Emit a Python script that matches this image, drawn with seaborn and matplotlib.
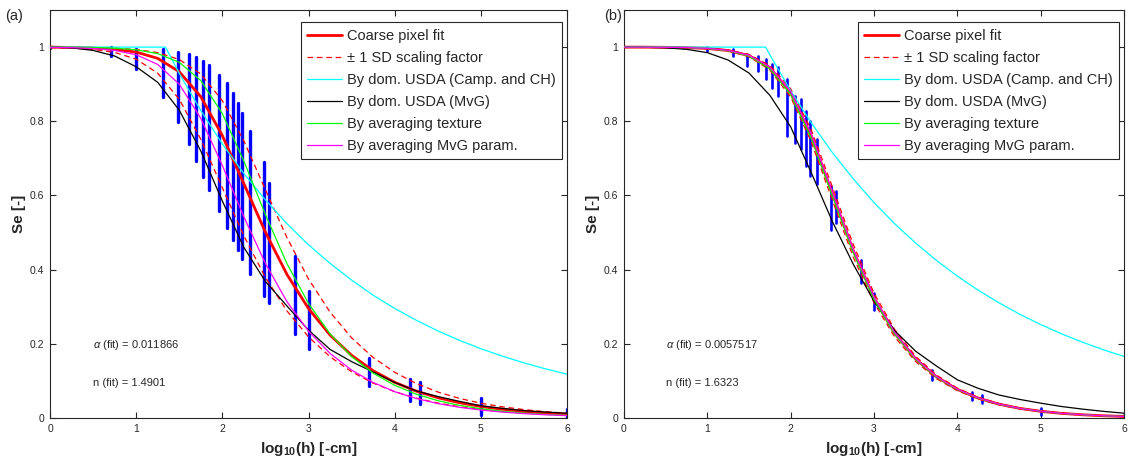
import matplotlib
matplotlib.use("Agg")
import matplotlib.pyplot as plt
import seaborn as sns

LOGH = [0.0, 0.25, 0.5, 0.75, 1.0, 1.25, 1.5, 1.75, 2.0, 2.25, 2.5, 2.75, 3.0,
        3.25, 3.5, 3.75, 4.0, 4.25, 4.5, 4.75, 5.0, 5.25, 5.5, 5.75, 6.0]

# ---- panel (a) ----
A_FIT = [1.000, 0.999, 0.9975, 0.9942, 0.9866, 0.9696, 0.9336, 0.8663, 0.7615, 0.6317,
         0.5011, 0.3871, 0.2951, 0.2236, 0.1690, 0.1275, 0.0962, 0.0726, 0.0547, 0.0413,
         0.0311, 0.0235, 0.0177, 0.0134, 0.0101]
A_SD_HI = [0.9998, 0.9995, 0.9988, 0.9973, 0.9936, 0.9852, 0.9665, 0.9275, 0.8556, 0.7468,
           0.6155, 0.4863, 0.3749, 0.2855, 0.2162, 0.1633, 0.1233, 0.0930, 0.0701, 0.0529,
           0.0399, 0.0301, 0.0227, 0.0171, 0.0129]
A_SD_LO = [0.9989, 0.9974, 0.9938, 0.9857, 0.9676, 0.9296, 0.8592, 0.7517, 0.6209, 0.4912,
           0.3789, 0.2887, 0.2187, 0.1652, 0.1247, 0.0941, 0.0710, 0.0535, 0.0404, 0.0305,
           0.0230, 0.0173, 0.0131, 0.0099, 0.0074]
A_CAMP_X = [0.0, 1.34, 1.5, 1.75, 2.0, 2.25, 2.5, 2.75, 3.0, 3.25, 3.5, 3.75, 4.0,
            4.25, 4.5, 4.75, 5.0, 5.25, 5.5, 5.75, 6.0]
A_CAMP = [1.0, 1.0, 0.929, 0.829, 0.739, 0.659, 0.588, 0.524, 0.467, 0.417, 0.372, 0.331,
          0.2955, 0.2636, 0.2350, 0.2096, 0.1869, 0.1667, 0.1487, 0.1326, 0.1182]
A_MVG = [1.000, 0.998, 0.991, 0.976, 0.947, 0.905, 0.830, 0.720, 0.585, 0.460,
         0.368, 0.302, 0.237, 0.185, 0.152, 0.124, 0.096, 0.073, 0.058, 0.045,
         0.033, 0.026, 0.020, 0.016, 0.013]
A_TEX = [1.000, 0.9995, 0.9988, 0.9970, 0.9927, 0.9824, 0.9590, 0.9098, 0.8208, 0.6924,
         0.5484, 0.4162, 0.3088, 0.2268, 0.1658, 0.1209, 0.0882, 0.0643, 0.0468, 0.0341,
         0.0249, 0.0181, 0.0132, 0.0096, 0.0070]
A_PAR = [0.9994, 0.9985, 0.9963, 0.9912, 0.9794, 0.9532, 0.9000, 0.8079, 0.6810, 0.5424,
         0.4165, 0.3136, 0.2341, 0.1740, 0.1292, 0.0958, 0.0710, 0.0527, 0.0390, 0.0289,
         0.0215, 0.0159, 0.0118, 0.0087, 0.0065]

# observed Se ranges per pressure head (same heads in both panels)
OBS_X = [0.0, 0.71, 1.0, 1.31, 1.48, 1.61, 1.70, 1.78, 1.85, 1.96, 2.05, 2.12,
         2.18, 2.23, 2.32, 2.48, 2.54, 2.84, 3.0, 3.70, 4.18, 4.29, 5.0, 6.0]
A_OBS_LO = [0.998, 0.977, 0.941, 0.866, 0.797, 0.740, 0.692, 0.650, 0.614, 0.558, 0.513, 0.480,
            0.453, 0.428, 0.388, 0.329, 0.309, 0.226, 0.186, 0.085, 0.047, 0.038, 0.009, 0.004]
A_OBS_HI = [1.0, 1.0, 0.995, 0.995, 0.988, 0.981, 0.972, 0.962, 0.951, 0.926, 0.903, 0.876,
            0.850, 0.823, 0.773, 0.690, 0.634, 0.437, 0.343, 0.161, 0.105, 0.096, 0.054, 0.024]

# ---- panel (b) ----
B_FIT = [0.9999, 0.9998, 0.9994, 0.9986, 0.9964, 0.9908, 0.9770, 0.9446, 0.8765, 0.7590,
         0.6053, 0.4514, 0.3237, 0.2279, 0.1592, 0.1109, 0.0771, 0.0536, 0.0372, 0.0259,
         0.0180, 0.0125, 0.0087, 0.0060, 0.0042]
B_SD_HI = [0.9999, 0.9998, 0.9995, 0.9988, 0.9969, 0.9920, 0.9798, 0.9506, 0.8875, 0.7750,
           0.6233, 0.4684, 0.3367, 0.2379, 0.1662, 0.1159, 0.0806, 0.0560, 0.0389, 0.0270,
           0.0188, 0.0131, 0.0091, 0.0063, 0.0044]
B_SD_LO = [0.9999, 0.9997, 0.9993, 0.9984, 0.9959, 0.9896, 0.9742, 0.9386, 0.8655, 0.7430,
           0.5873, 0.4344, 0.3107, 0.2179, 0.1522, 0.1059, 0.0736, 0.0512, 0.0355, 0.0248,
           0.0172, 0.0119, 0.0083, 0.0057, 0.0040]
B_CAMP_X = [0.0, 1.70, 1.75, 2.0, 2.25, 2.5, 2.75, 3.0, 3.25, 3.5, 3.75, 4.0,
            4.25, 4.5, 4.75, 5.0, 5.25, 5.5, 5.75, 6.0]
B_CAMP = [1.0, 1.0, 0.9793, 0.8823, 0.7949, 0.7158, 0.6451, 0.5809, 0.5234, 0.4716,
          0.4247, 0.3826, 0.3446, 0.3105, 0.2797, 0.2520, 0.2270, 0.2045, 0.1842, 0.1660]
B_MVG = [1.000, 0.9995, 0.998, 0.994, 0.985, 0.965, 0.930, 0.870, 0.785, 0.660,
         0.530, 0.415, 0.315, 0.235, 0.180, 0.140, 0.103, 0.080, 0.062, 0.050,
         0.040, 0.031, 0.024, 0.018, 0.013]
B_TEX = [0.9999, 0.9998, 0.9994, 0.9985, 0.9962, 0.9903, 0.9758, 0.9420, 0.8720, 0.7530,
         0.5990, 0.4460, 0.3200, 0.2255, 0.1578, 0.1100, 0.0766, 0.0533, 0.0370, 0.0258,
         0.0179, 0.0124, 0.0086, 0.0060, 0.0042]
B_PAR = [0.9999, 0.9998, 0.9994, 0.9987, 0.9966, 0.9912, 0.9780, 0.9465, 0.8800, 0.7640,
         0.6100, 0.4550, 0.3265, 0.2300, 0.1605, 0.1118, 0.0776, 0.0540, 0.0374, 0.0260,
         0.0181, 0.0126, 0.0087, 0.0061, 0.0042]
B_OBS_LO = [0.999, 0.998, 0.990, 0.977, 0.950, 0.936, 0.914, 0.891, 0.868, 0.760, 0.742, 0.724,
            0.679, 0.652, 0.630, 0.508, 0.526, 0.364, 0.292, 0.103, 0.049, 0.040, 0.008, 0.003]
B_OBS_HI = [1.0, 1.0, 0.999, 0.995, 0.981, 0.977, 0.968, 0.954, 0.945, 0.914, 0.868, 0.860,
            0.828, 0.800, 0.751, 0.625, 0.612, 0.427, 0.337, 0.130, 0.071, 0.062, 0.026, 0.008]

LABELS = ["Coarse pixel fit", "\u00b1 1 SD scaling factor", "By dom. USDA (Camp. and CH)",
          "By dom. USDA (MvG)", "By averaging texture", "By averaging MvG param."]
X_TICKS = [0, 1, 2, 3, 4, 5, 6]
Y_TICKS = [0, 0.2, 0.4, 0.6, 0.8, 1.0]
Y_TICKLABELS = ["0", "0.2", "0.4", "0.6", "0.8", "1"]

sns.set_theme(style="ticks")
plt.rcParams["font.family"] = ["Liberation Sans", "DejaVu Sans"]
plt.rcParams["mathtext.fontset"] = "custom"
plt.rcParams["mathtext.rm"] = "Liberation Sans"
plt.rcParams["mathtext.it"] = "Liberation Sans:italic"
plt.rcParams["mathtext.bf"] = "Liberation Sans:bold"

AXCOL = "#262626"
DASH = (0, (4.5, 3))


def draw_panel(ax, fit, sd_hi, sd_lo, camp_x, camp, mvg, tex, par,
               obs_lo, obs_hi, alpha_txt, n_txt, obs_lw, legend_x):
    ax.vlines(OBS_X, obs_lo, obs_hi, colors="#0000ff", linewidth=obs_lw,
              capstyle="round", zorder=1)

    sns.lineplot(x=LOGH, y=fit, color="#ff0000", linewidth=2.0, label=LABELS[0], ax=ax, zorder=3)
    sns.lineplot(x=LOGH, y=sd_hi, color="#ff0000", linewidth=0.9, linestyle=DASH,
                 label=LABELS[1], ax=ax, zorder=3)
    sns.lineplot(x=LOGH, y=sd_lo, color="#ff0000", linewidth=0.9, linestyle=DASH,
                 label="_nolegend_", ax=ax, zorder=3)
    sns.lineplot(x=camp_x, y=camp, color="#00ffff", linewidth=0.9, label=LABELS[2], ax=ax, zorder=3)
    sns.lineplot(x=LOGH, y=mvg, color="black", linewidth=0.9, label=LABELS[3], ax=ax, zorder=3)
    sns.lineplot(x=LOGH, y=tex, color="#00ff00", linewidth=0.9, label=LABELS[4], ax=ax, zorder=3)
    sns.lineplot(x=LOGH, y=par, color="#ff00ff", linewidth=0.9, label=LABELS[5], ax=ax, zorder=3)

    ax.set_xlim(0, 6)
    ax.set_ylim(0, 1.1)
    ax.set_xticks(X_TICKS)
    ax.set_xticklabels([str(t) for t in X_TICKS])
    ax.set_yticks(Y_TICKS)
    ax.set_yticklabels(Y_TICKLABELS)
    ax.tick_params(direction="in", top=True, right=True, length=4, width=0.8,
                   labelsize=7.5, colors=AXCOL, pad=4)
    for sp in ax.spines.values():
        sp.set_visible(True)
        sp.set_color(AXCOL)
        sp.set_linewidth(0.8)

    ax.set_xlabel("log$_{\\mathbf{10}}$(h) [-cm]", fontsize=11, fontweight="bold",
                  color=AXCOL, labelpad=5)
    ax.set_ylabel("Se [-]", fontsize=11, fontweight="bold", color=AXCOL, labelpad=3)

    ax.text(0.5, 0.197, alpha_txt, fontsize=8, va="center", ha="left", color=AXCOL)
    ax.text(0.5, 0.095, n_txt, fontsize=8, va="center", ha="left", color=AXCOL)

    leg = ax.legend(loc="upper right", bbox_to_anchor=(legend_x, 0.97), borderaxespad=0,
                    fontsize=10.5, frameon=True, fancybox=False, framealpha=1,
                    edgecolor=AXCOL, handlelength=2.4, handletextpad=0.3,
                    labelspacing=0.55, borderpad=0.45)
    leg.get_frame().set_linewidth(0.8)


fig = plt.figure(figsize=(11.42, 4.62), dpi=100)
ax_a = fig.add_axes([50 / 1142, 1 - 418 / 462, 517 / 1142, 408 / 462])
ax_b = fig.add_axes([624 / 1142, 1 - 418 / 462, 500 / 1142, 408 / 462])

draw_panel(ax_a, A_FIT, A_SD_HI, A_SD_LO, A_CAMP_X, A_CAMP, A_MVG, A_TEX, A_PAR,
           A_OBS_LO, A_OBS_HI, "$\\alpha$ (fit) = 0.011866", "n (fit) = 1.4901", 2.4, 0.99)
draw_panel(ax_b, B_FIT, B_SD_HI, B_SD_LO, B_CAMP_X, B_CAMP, B_MVG, B_TEX, B_PAR,
           B_OBS_LO, B_OBS_HI, "$\\alpha$ (fit) = 0.0057517", "n (fit) = 1.6323", 1.9, 0.99)

fig.text(5 / 1142, 1 - 16 / 462, "(a)", fontsize=10.5, va="center", ha="left", color=AXCOL)
fig.text(604 / 1142, 1 - 16 / 462, "(b)", fontsize=10.5, va="center", ha="left", color=AXCOL)

fig.savefig("out.png", dpi=100)
